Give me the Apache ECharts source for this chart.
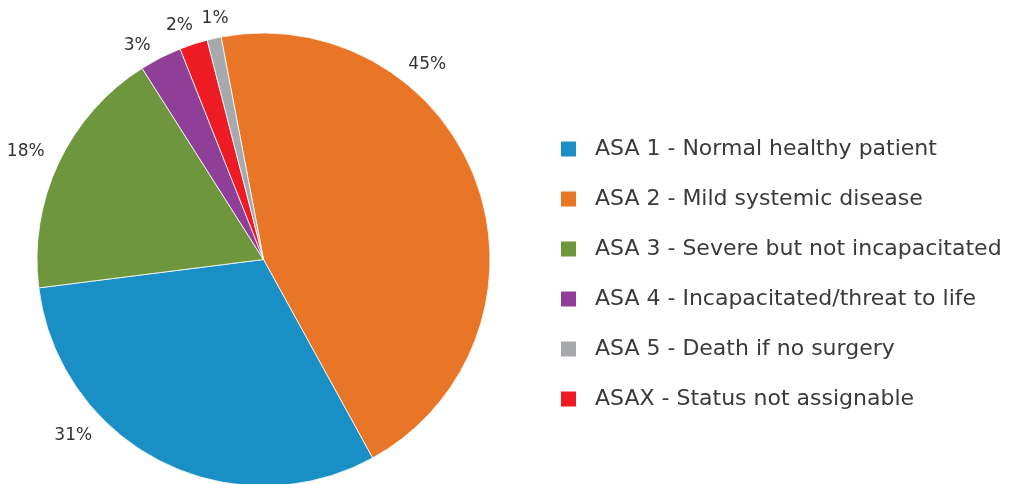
<!DOCTYPE html>
<html>
<head>
<meta charset="utf-8">
<script src="https://cdn.jsdelivr.net/npm/echarts@6/dist/echarts.min.js"></script>
<style>
html,body{margin:0;padding:0;background:#fff;}
#chart{width:1010px;height:484px;}
</style>
</head>
<body>
<div id="chart"></div>
<script>
// Categories in legend order
var categories = [
  'ASA 1 - Normal healthy patient',
  'ASA 2 - Mild systemic disease',
  'ASA 3 - Severe but not incapacitated',
  'ASA 4 - Incapacitated/threat to life',
  'ASA 5 - Death if no surgery',
  'ASAX - Status not assignable'
];
// Percent values, same order as categories
var values = [31, 45, 18, 3, 1, 2];
var colors = ['#1a8fc5', '#e87626', '#6e963d', '#8f3f98', '#a7a9ac', '#ed1c24'];
// Clockwise drawing order of slices in the pie
var drawOrder = [1, 0, 2, 3, 5, 4];

// Label nudges (style only), keyed by category index
var labelNudge = {
  0: [-77, -46],
  1: [-71, -110],
  2: [-12, -2],
  3: [-13, 8],
  4: [6, 3],
  5: [-7, 3]
};

var pieData = drawOrder.map(function (i) {
  return { name: categories[i], value: values[i], itemStyle: { color: colors[i] } };
});

var chart = echarts.init(document.getElementById('chart'), null, { renderer: 'canvas' });
chart.setOption({
  animation: false,
  legend: {
    data: categories,
    orient: 'vertical',
    left: 559,
    top: 138,
    padding: 0,
    itemWidth: 17,
    itemHeight: 17,
    itemGap: 28,
    icon: 'rect',
    selectedMode: false,
    textStyle: {
      fontFamily: 'DejaVu Sans',
      fontSize: 22,
      lineHeight: 22,
      color: '#3a3a3a',
      padding: [0, 0, 0, 13]
    }
  },
  series: [{
    type: 'pie',
    center: [263.5, 259.5],
    radius: [0, 226.5],
    startAngle: 100.8,
    clockwise: true,
    avoidLabelOverlap: false,
    silent: true,
    data: pieData,
    itemStyle: { borderColor: '#ffffff', borderWidth: 0.8 },
    label: {
      show: true,
      position: 'outside',
      formatter: '{c}%',
      fontFamily: 'DejaVu Sans',
      fontSize: 17,
      color: '#333333',
      distanceToLabelLine: 0
    },
    labelLine: { show: false, length: 23, length2: 0 },
    labelLayout: function (p) {
      var n = labelNudge[drawOrder[p.dataIndex]] || [0, 0];
      return { align: 'center', verticalAlign: 'middle', dx: n[0], dy: n[1] };
    }
  }]
});
</script>
</body>
</html>
